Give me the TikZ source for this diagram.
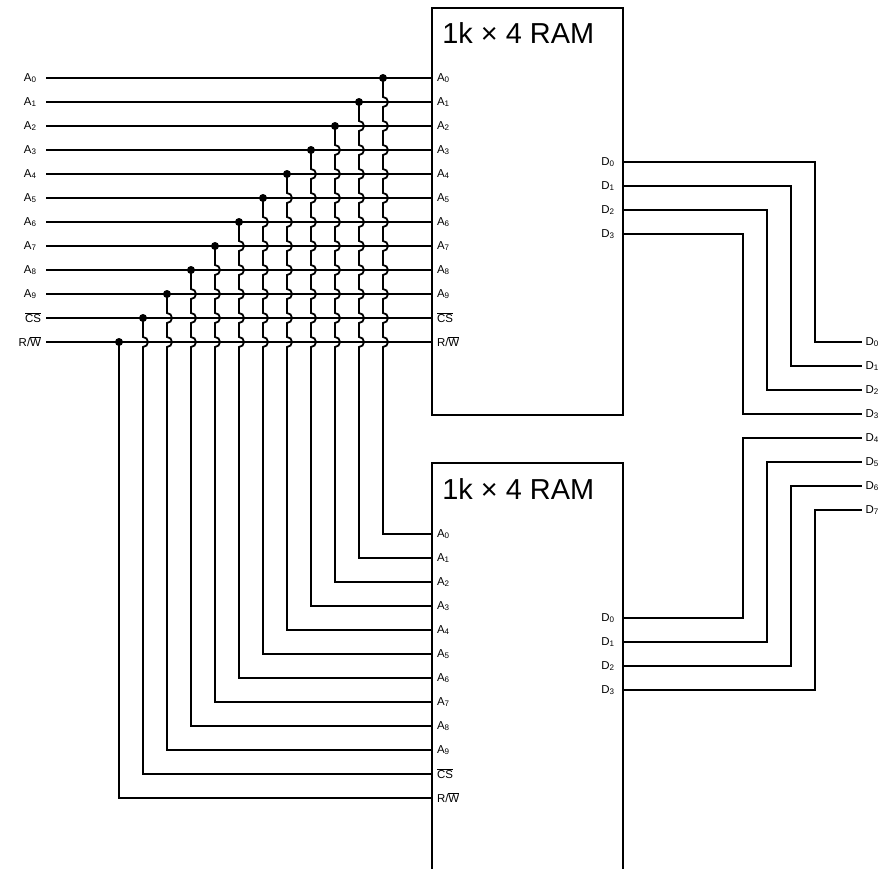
\documentclass[tikz,border=0pt]{standalone}
\usepackage{fontspec}
\setmainfont{Liberation Sans}
\begin{document}
\begin{tikzpicture}[x=1bp,y=1bp,line width=1.8bp,
  pinlab/.style={font=\fontsize{11.5}{13}\selectfont,inner sep=0.6pt},
  titlelab/.style={font=\fontsize{29}{31}\selectfont,inner sep=0pt,anchor=base west},
  ramblock/.style={draw,anchor=north west,minimum width=191bp,inner sep=0pt},
  tapdot/.style={fill}]
\useasboundingbox (0,0) rectangle (886,-869);
% RAM blocks
\node[ramblock,minimum height=407bp] (ram1) at (431,-7) {};
\node[ramblock,minimum height=420bp] (ram2) at (431,-462) {};
\node[titlelab] (t1) at (441.5,-43) {1k × 4 RAM};
\node[titlelab] (t2) at (441.5,-499.5) {1k × 4 RAM};
% coordinates
\foreach \i in {0,...,11} {
  \pgfmathsetmacro\yt{78+24*\i}
  \pgfmathsetmacro\yb{534+24*\i}
  \pgfmathsetmacro\xv{383-24*\i}
  \coordinate (in\i) at (46,-\yt);
  \coordinate (p1\i) at (431,-\yt);
  \coordinate (tap\i) at (\xv,-\yt);
  \coordinate (p2\i) at (431,-\yb);
}
% labels
\foreach \i in {0,...,9} {
  \node[pinlab,anchor=east] (l\i) at ([xshift=-8bp]in\i) {A\textsubscript{\i}};
  \node[pinlab,anchor=west] (la\i) at ([xshift=4.5bp]p1\i) {A\textsubscript{\i}};
  \node[pinlab,anchor=west] (lb\i) at ([xshift=4.5bp]p2\i) {A\textsubscript{\i}};
}
\node[pinlab,anchor=east] (l10) at ([xshift=-3.5bp]in10) {$\overline{\mbox{CS}}$};
\node[pinlab,anchor=west] (la10) at ([xshift=4.5bp]p110) {$\overline{\mbox{CS}}$};
\node[pinlab,anchor=west] (lb10) at ([xshift=4.5bp]p210) {$\overline{\mbox{CS}}$};
\node[pinlab,anchor=east] (l11) at ([xshift=-3.5bp]in11) {R/$\overline{\mbox{W}}$};
\node[pinlab,anchor=west] (la11) at ([xshift=4.5bp]p111) {R/$\overline{\mbox{W}}$};
\node[pinlab,anchor=west] (lb11) at ([xshift=4.5bp]p211) {R/$\overline{\mbox{W}}$};
% horizontal input lines
\foreach \i in {0,...,11} {
  \draw (in\i) -- (p1\i);
}
% vertical taps with jumps
\foreach \i in {0,...,10} {
  \pgfmathsetmacro\xv{383-24*\i}
  \pgfmathtruncatemacro\ip{\i+1}
  \draw (tap\i) \foreach \j in {\ip,...,11} { -- (\xv,{-78-24*\j+5}) arc[start angle=90,end angle=-90,radius=5] } |- (p2\i);
}
\draw (tap11) |- (p211);
\foreach \i in {0,...,11} {
  \fill[tapdot] (tap\i) circle (4);
}
% data outputs
\foreach \k in {0,...,3} {
  \pgfmathsetmacro\ya{162+24*\k}
  \pgfmathsetmacro\yc{618+24*\k}
  \pgfmathsetmacro\xa{815-24*\k}
  \pgfmathsetmacro\xc{743+24*\k}
  \pgfmathsetmacro\oa{342+24*\k}
  \pgfmathsetmacro\ob{438+24*\k}
  \pgfmathtruncatemacro\kk{\k+4}
  \coordinate (da\k) at (622,-\ya);
  \coordinate (db\k) at (622,-\yc);
  \coordinate (ca\k) at (\xa,-\ya);
  \coordinate (cb\k) at (\xc,-\yc);
  \coordinate (o\k) at (862,-\oa);
  \coordinate (o\kk) at (862,-\ob);
  \node[pinlab,anchor=east] (dla\k) at ([xshift=-6bp]da\k) {D\textsubscript{\k}};
  \node[pinlab,anchor=east] (dlb\k) at ([xshift=-6bp]db\k) {D\textsubscript{\k}};
  \draw (da\k) -- (ca\k) |- (o\k);
  \draw (db\k) -- (cb\k) |- (o\kk);
}
\foreach \m in {0,...,7} {
  \node[pinlab,anchor=west] (ol\m) at ([xshift=2bp]o\m) {D\textsubscript{\m}};
}
\end{tikzpicture}
\end{document}
